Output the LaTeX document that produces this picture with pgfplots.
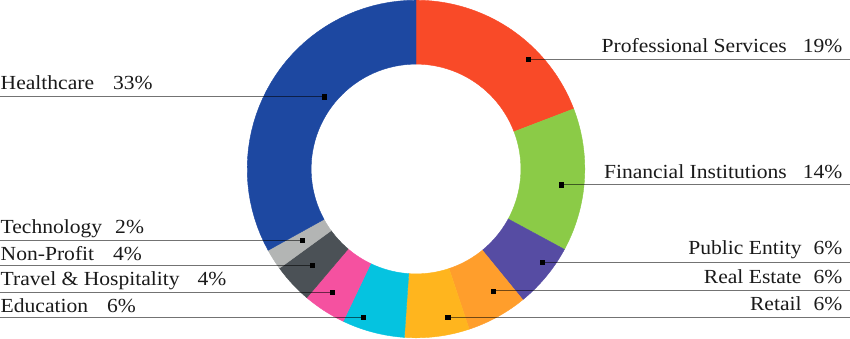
\documentclass[border=0pt]{standalone}
\usepackage{fontspec}
\setmainfont[FakeStretch=1.08]{Liberation Serif}
\usepackage{pgfplots}
\pgfplotsset{compat=1.18}
\definecolor{cPS}{HTML}{F94A28}
\definecolor{cFI}{HTML}{8BCB47}
\definecolor{cPE}{HTML}{564CA3}
\definecolor{cRE}{HTML}{FF9E2C}
\definecolor{cRT}{HTML}{FFB51E}
\definecolor{cED}{HTML}{05C3E0}
\definecolor{cTH}{HTML}{F551A0}
\definecolor{cNP}{HTML}{4B5156}
\definecolor{cTE}{HTML}{B3B5B4}
\definecolor{cHC}{HTML}{1D48A1}
\definecolor{txt}{HTML}{1A1A1A}
% #1 start (cumulative %), #2 share (%), #3 colour
\newcommand{\slice}[3]{%
  \addplot[fill=#3, draw=#3, line width=0.4bp, variable=\t,
    samples at={0,0.025,...,0.975,0.99999,1.00001,1.025,...,2}]
   ({416 + ((\t<1) ? 169 : 105)*cos(90-3.6*(#1 + ((\t<1) ? \t : (2-\t))*#2))},
    {169 + ((\t<1) ? 169 : 105)*sin(90-3.6*(#1 + ((\t<1) ? \t : (2-\t))*#2))}) -- cycle;
}
\newcommand{\lead}[3]{% dot x, y, line end x
  \addplot[black, opacity=0.55, line width=1bp] coordinates {(#1,#2) (#3,#2)};
  \addplot[only marks, mark=square*, mark size=2.1bp, black] coordinates {(#1,#2)};
}
\begin{document}
\begin{tikzpicture}
\begin{axis}[width=850bp, height=338bp, scale only axis,
  xmin=0, xmax=850, ymin=0, ymax=338, hide axis, clip=false]
\slice{0}{19.2}{cPS}
\slice{19.2}{13.7}{cFI}
\slice{32.9}{6.2}{cPE}
\slice{39.1}{5.8}{cRE}
\slice{44.9}{6.2}{cRT}
\slice{51.1}{6.0}{cED}
\slice{57.1}{4.1}{cTH}
\slice{61.2}{3.8}{cNP}
\slice{65.0}{2.0}{cTE}
\slice{67.0}{33.0}{cHC}
% leader lines and dots
\lead{528.3}{279}{850}
\lead{561.3}{153.3}{850}
\lead{542.7}{75.3}{850}
\lead{493.3}{47}{850}
\lead{447.7}{20.3}{850}
\lead{324}{241.3}{0}
\lead{302.3}{97.5}{0}
\lead{312}{72.3}{0}
\lead{332.3}{45.7}{0}
\lead{363.3}{20.3}{0}
% labels
\begin{scope}[every node/.style={inner sep=0pt, text=txt, font=\fontsize{20bp}{24bp}\selectfont}]
\node[anchor=base east] at (axis cs:843,285.7) {Professional Services\hspace{16bp}19\%};
\node[anchor=base east] at (axis cs:843,159.7) {Financial Institutions\hspace{16bp}14\%};
\node[anchor=base east] at (axis cs:843,83) {Public Entity\hspace{12bp}6\%};
\node[anchor=base east] at (axis cs:843,54.7) {Real Estate\hspace{12bp}6\%};
\node[anchor=base east] at (axis cs:843,27.3) {Retail\hspace{12bp}6\%};
\node[anchor=base west] at (axis cs:0,248.7) {Healthcare\hspace{19bp}33\%};
\node[anchor=base west] at (axis cs:0,104.7) {Technology\hspace{13bp}2\%};
\node[anchor=base west] at (axis cs:0,77) {Non-Profit\hspace{19bp}4\%};
\node[anchor=base west] at (axis cs:0,52) {Travel \& Hospitality\hspace{18bp}4\%};
\node[anchor=base west] at (axis cs:0,25.3) {Education\hspace{19bp}6\%};
\end{scope}
\end{axis}
\end{tikzpicture}
\end{document}
